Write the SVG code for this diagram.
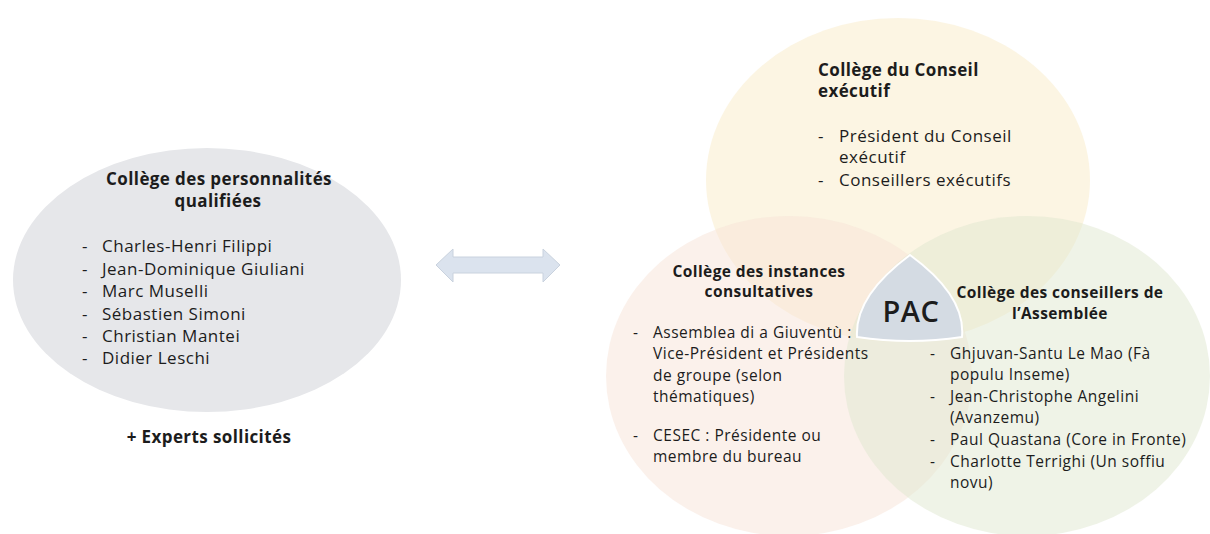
<svg xmlns="http://www.w3.org/2000/svg" width="1210" height="534" viewBox="0 0 1210 534">
<style>
.t{font-family:"Open Sans","Noto Sans","Liberation Sans",sans-serif;fill:#1c1c1c;letter-spacing:0.5px}
.b{font-weight:bold;letter-spacing:0.4px}
.l17{font-size:17px}
.s15{font-size:15.5px}
.mid{text-anchor:middle}
</style>
<rect width="1210" height="534" fill="#ffffff"/>
<g id="node-personnalites">
<ellipse cx="207" cy="280" rx="194" ry="132" fill="#e6e7ea"/>
<text class="t b l17 mid" x="219" y="185">Collège des personnalités</text>
<text class="t b l17 mid" x="218" y="207">qualifiées</text>
<text class="t l17"><tspan x="82" y="252">-</tspan><tspan x="102" y="252">Charles-Henri Filippi</tspan></text>
<text class="t l17"><tspan x="82" y="274.5">-</tspan><tspan x="102" y="274.5">Jean-Dominique Giuliani</tspan></text>
<text class="t l17"><tspan x="82" y="297">-</tspan><tspan x="102" y="297">Marc Muselli</tspan></text>
<text class="t l17"><tspan x="82" y="319.5">-</tspan><tspan x="102" y="319.5">Sébastien Simoni</tspan></text>
<text class="t l17"><tspan x="82" y="342">-</tspan><tspan x="102" y="342">Christian Mantei</tspan></text>
<text class="t l17"><tspan x="82" y="364">-</tspan><tspan x="102" y="364">Didier Leschi</tspan></text>
<text class="t b l17 mid" x="209" y="443">+ Experts sollicités</text>
</g>
<g id="connectors">
<path d="M436,265 L453,249 L453,257 L543,257 L543,249 L560,265 L543,282 L543,273 L453,273 L453,282 Z" fill="#dbe3ee" stroke="#c9d2de" stroke-width="1"/>
</g>
<g id="node-conseil-executif">
<ellipse cx="898" cy="180" rx="192" ry="162" fill="#f9ebc8" fill-opacity="0.5"/>
</g>
<g id="node-instances-consultatives">
<ellipse cx="789" cy="376" rx="183" ry="160" fill="#f7e3d8" fill-opacity="0.5"/>
</g>
<g id="node-conseillers-assemblee">
<ellipse cx="1027" cy="376" rx="183" ry="160" fill="#dfe8d0" fill-opacity="0.5"/>
</g>
<g id="node-pac">
<path d="M910,255 Q966,296 962,337 Q909.5,345 857,337 Q854.5,296 910,255 Z" fill="#d4dbe3" stroke="#ffffff" stroke-width="2"/>
<text class="t mid" x="911" y="322" style="font-size:29px;font-weight:600;letter-spacing:0.5px">PAC</text>
</g>
<g id="labels-conseil-executif">
<text class="t b l17" x="818" y="76">Collège du Conseil</text>
<text class="t b l17" x="818" y="97">exécutif</text>
<text class="t l17"><tspan x="818" y="142">-</tspan><tspan x="839" y="142">Président du Conseil</tspan></text>
<text class="t l17" x="839" y="163">exécutif</text>
<text class="t l17"><tspan x="818" y="186">-</tspan><tspan x="839" y="186">Conseillers exécutifs</tspan></text>
</g>
<g id="labels-instances-consultatives">
<text class="t b s15 mid" x="759" y="277">Collège des instances</text>
<text class="t b s15 mid" x="759" y="297">consultatives</text>
<text class="t s15"><tspan x="633" y="338">-</tspan><tspan x="653" y="338">Assemblea di a Giuventù :</tspan></text>
<text class="t s15" x="653" y="359">Vice-Président et Présidents</text>
<text class="t s15" x="653" y="381">de groupe (selon</text>
<text class="t s15" x="653" y="402">thématiques)</text>
<text class="t s15"><tspan x="633" y="441">-</tspan><tspan x="653" y="441">CESEC : Présidente ou</tspan></text>
<text class="t s15" x="653" y="462">membre du bureau</text>
</g>
<g id="labels-conseillers-assemblee">
<text class="t b s15 mid" x="1060" y="298">Collège des conseillers de</text>
<text class="t b s15 mid" x="1060" y="319">l’Assemblée</text>
<text class="t s15"><tspan x="930" y="359">-</tspan><tspan x="950" y="359">Ghjuvan-Santu Le Mao (Fà</tspan></text>
<text class="t s15" x="950" y="380">populu Inseme)</text>
<text class="t s15"><tspan x="930" y="402">-</tspan><tspan x="950" y="402">Jean-Christophe Angelini</tspan></text>
<text class="t s15" x="950" y="423">(Avanzemu)</text>
<text class="t s15"><tspan x="930" y="445">-</tspan><tspan x="950" y="445">Paul Quastana (Core in Fronte)</tspan></text>
<text class="t s15"><tspan x="930" y="467">-</tspan><tspan x="950" y="467">Charlotte Terrighi (Un soffiu</tspan></text>
<text class="t s15" x="950" y="488">novu)</text>
</g>
</svg>
